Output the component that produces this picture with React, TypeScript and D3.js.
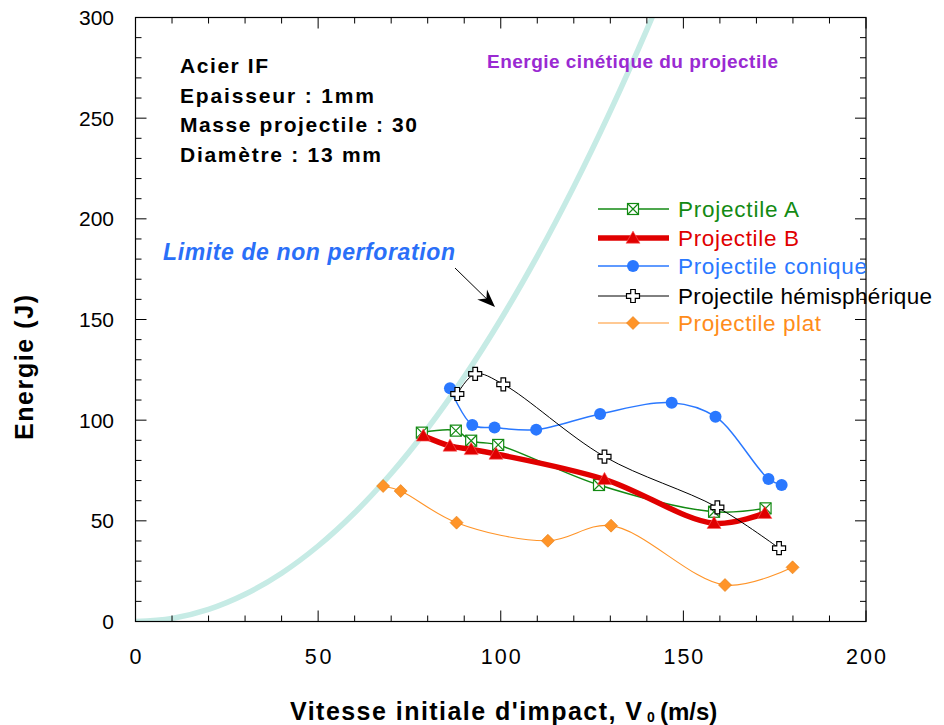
import React from "react";
import * as d3 from "d3";

const W = 944;
const H = 725;

// Axis ticks
const xMajorTicks = [0, 50, 100, 150, 200];
const yMajorTicks = [0, 50, 100, 150, 200, 250, 300];
const xMinorStep = 10;
const yMinorStep = 10;

// Kinetic energy curve (m = 30 g): velocity (m/s) and energy (J)
const kineticV = [0, 10, 20, 30, 40, 50, 60, 70, 80, 90, 100, 110, 120, 130, 140, 150];
const kineticE = [0, 1.5, 6, 13.5, 24, 37.5, 54, 73.5, 96, 121.5, 150, 181.5, 216, 253.5, 294, 337.5];

// Projectile A
const aV = [78.4, 87.7, 91.9, 99.3, 126.9, 158.4, 172.5];
const aE = [93.8, 94.8, 89.8, 87.7, 67.8, 54.5, 56.2];
// Projectile B
const bV = [78.8, 86.1, 91.9, 98.7, 128.4, 158.4, 172.3];
const bE = [92.2, 87.2, 85.5, 83.2, 70.6, 48.8, 53.8];
// Projectile conique
const cV = [86.1, 92.2, 98.3, 109.7, 127.2, 146.8, 158.8, 173.3, 176.9];
const cE = [115.8, 97.6, 96.3, 95.3, 103.1, 108.7, 101.7, 70.8, 67.8];
// Projectile hémisphérique
const hV = [88.1, 93.0, 100.7, 128.4, 159.3, 176.2];
const hE = [113.0, 123.0, 117.8, 81.9, 56.7, 36.4];
// Projectile plat
const pV = [67.8, 72.6, 87.9, 112.9, 130.2, 161.4, 179.9];
const pE = [67.3, 64.8, 49.1, 40.1, 47.6, 18.1, 26.9];

const infoLines = ["Acier IF", "Epaisseur : 1mm", "Masse projectile : 30", "Diamètre : 13 mm"];
const infoWidths = [88, 194, 237, 201];

const FONT = "'Liberation Sans', Arial, Helvetica, sans-serif";

const x = d3.scaleLinear().domain([0, 200]).range([135.5, 866]);
const y = d3.scaleLinear().domain([0, 300]).range([621.5, 17.5]);

type MarkerKind = "squareX" | "triangle" | "circle" | "cross" | "diamond";

interface Series {
  name: string;
  v: number[];
  e: number[];
  color: string;
  textColor: string;
  width: number;
  marker: MarkerKind;
  legendWidth: number;
}

const series: Series[] = [
  { name: "Projectile plat", v: pV, e: pE, color: "#ff9428", textColor: "#ff8c1a", width: 1.1, marker: "diamond", legendWidth: 143 },
  { name: "Projectile conique", v: cV, e: cE, color: "#2a78ff", textColor: "#2a78ff", width: 1.5, marker: "circle", legendWidth: 189 },
  { name: "Projectile A", v: aV, e: aE, color: "#138a13", textColor: "#138a13", width: 1.5, marker: "squareX", legendWidth: 121 },
  { name: "Projectile B", v: bV, e: bE, color: "#e00000", textColor: "#e00000", width: 5.5, marker: "triangle", legendWidth: 121 },
  { name: "Projectile hémisphérique", v: hV, e: hE, color: "#000000", textColor: "#000000", width: 1, marker: "cross", legendWidth: 254 },
];

const legendOrder = ["Projectile A", "Projectile B", "Projectile conique", "Projectile hémisphérique", "Projectile plat"];
const legendRows = [209, 238, 266, 296, 323];

function Marker({ kind, cx, cy, color }: { kind: MarkerKind; cx: number; cy: number; color: string }) {
  if (kind === "circle") {
    return <circle cx={cx} cy={cy} r={6} fill={color} />;
  }
  if (kind === "triangle") {
    const s = 7;
    return (
      <path
        d={`M${cx},${cy - s} L${cx + s},${cy + s * 0.75} L${cx - s},${cy + s * 0.75} Z`}
        fill={color}
        stroke="#ff6060"
        strokeWidth={0.6}
      />
    );
  }
  if (kind === "diamond") {
    const s = 6.5;
    return (
      <path
        d={`M${cx},${cy - s} L${cx + s},${cy} L${cx},${cy + s} L${cx - s},${cy} Z`}
        fill={color}
        stroke="#e07a10"
        strokeWidth={0.6}
      />
    );
  }
  if (kind === "squareX") {
    const s = 5.5;
    return (
      <g stroke={color} strokeWidth={1.2} fill="#ffffff">
        <rect x={cx - s} y={cy - s} width={2 * s} height={2 * s} />
        <path d={`M${cx - s},${cy - s} L${cx + s},${cy + s} M${cx + s},${cy - s} L${cx - s},${cy + s}`} fill="none" />
      </g>
    );
  }
  const a = 2.3;
  const L = 6.5;
  const d = `M${cx - a},${cy - L} L${cx + a},${cy - L} L${cx + a},${cy - a} L${cx + L},${cy - a} L${cx + L},${cy + a} L${cx + a},${cy + a} L${cx + a},${cy + L} L${cx - a},${cy + L} L${cx - a},${cy + a} L${cx - L},${cy + a} L${cx - L},${cy - a} L${cx - a},${cy - a} Z`;
  return <path d={d} fill="#ffffff" stroke={color} strokeWidth={1.2} />;
}

export default function App() {
  const line = d3
    .line<[number, number]>()
    .x((d) => x(d[0]))
    .y((d) => y(d[1]))
    .curve(d3.curveCatmullRom.alpha(0.5));

  const kinPts: [number, number][] = kineticV.map((v, i) => [v, kineticE[i]]);

  const xMinor = d3.range(0, 200 + 0.001, xMinorStep);
  const yMinor = d3.range(0, 300 + 0.001, yMinorStep);
  const x0 = x(0), x1 = x(200), y0 = y(0), y1 = y(300);
  const major = 11;
  const minor = 6;

  const tip = [495, 307];
  const tail = [455, 268];
  const ang = Math.atan2(tip[1] - tail[1], tip[0] - tail[0]);
  const ux = Math.cos(ang), uy = Math.sin(ang);
  const px = -uy, py = ux;
  const hl = 18, hw = 7, notch = 12;
  const head = `M${tip[0]},${tip[1]} L${tip[0] - hl * ux + hw * px},${tip[1] - hl * uy + hw * py} L${tip[0] - notch * ux},${tip[1] - notch * uy} L${tip[0] - hl * ux - hw * px},${tip[1] - hl * uy - hw * py} Z`;

  return (
    <svg width={W} height={H} style={{ position: "absolute", left: 0, top: 0, background: "#fff" }} fontFamily={FONT}>
      <defs>
        <clipPath id="plotClip">
          <rect x={x0} y={y1} width={x1 - x0} height={y0 - y1} />
        </clipPath>
      </defs>

      <path d={line(kinPts) || ""} fill="none" stroke="#c6ebe5" strokeWidth={5.5} clipPath="url(#plotClip)" />

      <rect x={x0} y={y1} width={x1 - x0} height={y0 - y1} fill="none" stroke="#000" strokeWidth={1.2} />

      <g stroke="#000" strokeWidth={1}>
        {xMinor.map((t) => {
          const len = xMajorTicks.includes(Math.round(t)) ? major : minor;
          return (
            <g key={"xt" + t}>
              <line x1={x(t)} x2={x(t)} y1={y0} y2={y0 - len} />
              <line x1={x(t)} x2={x(t)} y1={y1} y2={y1 + len} />
            </g>
          );
        })}
        {yMinor.map((t) => {
          const len = yMajorTicks.includes(Math.round(t)) ? major : minor;
          return (
            <g key={"yt" + t}>
              <line x1={x0} x2={x0 + len} y1={y(t)} y2={y(t)} />
              <line x1={x1} x2={x1 - len} y1={y(t)} y2={y(t)} />
            </g>
          );
        })}
      </g>

      {xMajorTicks.map((t) => (
        <text
          key={"xl" + t}
          x={x(t)}
          y={663.5}
          textAnchor="middle"
          fontSize={21.5}
          textLength={String(t).length * 13.3}
        >
          {t}
        </text>
      ))}
      {yMajorTicks.map((t) => (
        <text key={"yl" + t} x={114} y={y(t) + 7.5} textAnchor="end" fontSize={21}>
          {t}
        </text>
      ))}

      <text x={290} y={720} fontSize={25} fontWeight="bold" textLength={352}>
        Vitesse initiale d'impact, V
      </text>
      <text x={651} y={722} fontSize={14} fontWeight="bold" textAnchor="middle">
        0
      </text>
      <text x={660} y={720} fontSize={24} fontWeight="bold">
        (m/s)
      </text>
      <text transform={`translate(33,367.5) rotate(-90)`} textAnchor="middle" fontSize={25} fontWeight="bold" textLength={145}>
        Energie (J)
      </text>

      {infoLines.map((s, i) => (
        <text key={s} x={180} y={73 + i * 29.5} fontSize={21} fontWeight="bold" textLength={infoWidths[i]}>
          {s}
        </text>
      ))}

      <text x={487} y={68} fontSize={19} fontWeight="bold" fill="#9a2ad2" textLength={291}>
        Energie cinétique du projectile
      </text>

      <text x={163} y={260} fontSize={23} fontWeight="bold" fontStyle="italic" fill="#2a6ff8" textLength={292}>
        Limite de non perforation
      </text>
      <line x1={tail[0]} y1={tail[1]} x2={tip[0] - 10 * ux} y2={tip[1] - 10 * uy} stroke="#000" strokeWidth={1} />
      <path d={head} fill="#000" />

      {series.map((s) => {
        const pts: [number, number][] = s.v.map((v, i) => [v, s.e[i]]);
        return (
          <g key={s.name}>
            <path d={line(pts) || ""} fill="none" stroke={s.color} strokeWidth={s.width} strokeLinejoin="round" />
            {pts.map((p, i) => (
              <Marker key={i} kind={s.marker} cx={x(p[0])} cy={y(p[1])} color={s.color} />
            ))}
          </g>
        );
      })}

      {legendOrder.map((name, i) => {
        const s = series.find((q) => q.name === name)!;
        const ly = legendRows[i];
        return (
          <g key={"lg" + name}>
            <line x1={598} x2={669} y1={ly} y2={ly} stroke={s.color} strokeWidth={s.width} />
            <Marker kind={s.marker} cx={633} cy={ly} color={s.color} />
            <text x={678} y={ly + 8} fontSize={22.5} fill={s.textColor} textLength={s.legendWidth}>
              {name}
            </text>
          </g>
        );
      })}
    </svg>
  );
}
